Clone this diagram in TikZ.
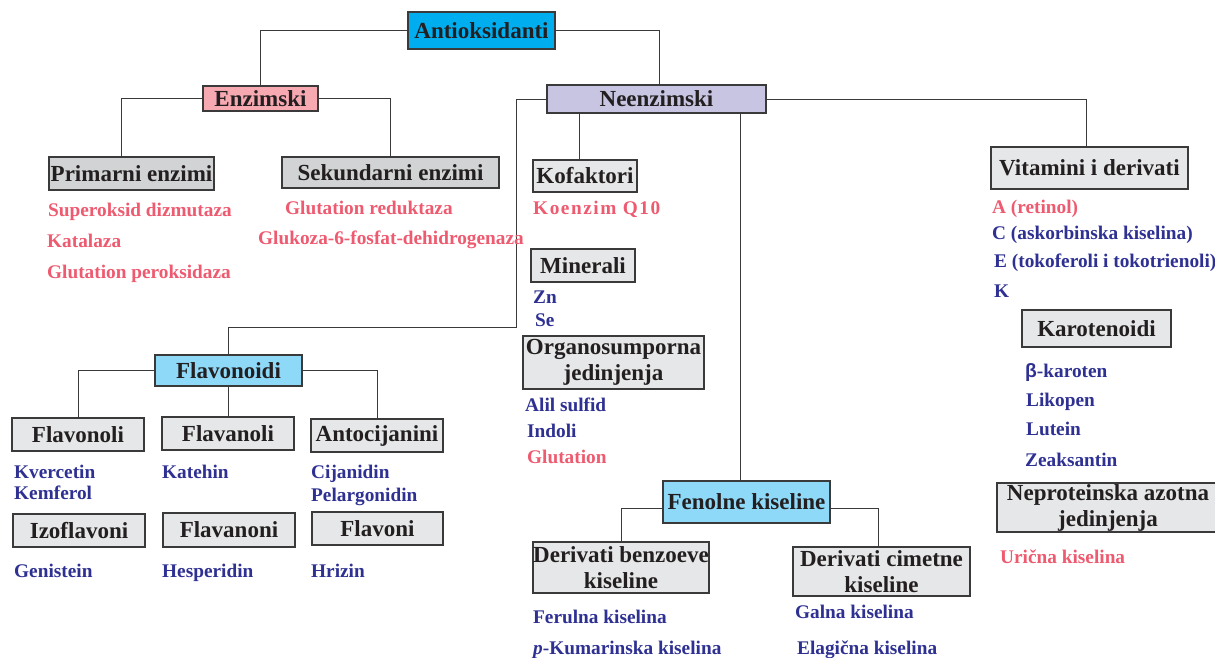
\documentclass[tikz,border=0pt]{standalone}
\usepackage{fontspec}
\setmainfont{Liberation Serif}
\newfontfamily\symfont{Liberation Sans}

\definecolor{topcyan}{HTML}{00AEEF}
\definecolor{enzpink}{HTML}{F7A9B1}
\definecolor{neenzlav}{HTML}{C7C5E2}
\definecolor{groupblue}{HTML}{8ED8F8}
\definecolor{boxgray}{HTML}{E6E7E8}
\definecolor{boxgraydark}{HTML}{D1D3D4}
\definecolor{hdrtext}{HTML}{231F20}
\definecolor{itemred}{HTML}{EE5A6F}
\definecolor{itemblue}{HTML}{2E3192}
\definecolor{linegray}{HTML}{3A3A3A}

\newcommand\hdrfont{\fontsize{23}{26}\selectfont\bfseries}
\newcommand\itemfont{\fontsize{19.3}{22}\selectfont\bfseries}

% box: name, x1, y1, x2, y2, style, text
\newcommand\bx[7]{%
  \node[#6, minimum width={(#4-#2)*1pt}, minimum height={(#5-#3)*1pt}]
    (#1) at ({(#2+#4)/2},{(#3+#5)/2}) {#7};}
% list item: name, x, baseline, style, text
\newcommand\itm[5]{\node[#4] (#1) at (#2,#3) {#5};}

\begin{document}
\begin{tikzpicture}[x=1pt,y=-1pt,
  hbox/.style={draw=linegray, line width=1.2pt, inner sep=0pt, align=center,
    text=hdrtext, font=\hdrfont},
  plainbox/.style={hbox, fill=boxgray},
  darkbox/.style={hbox, fill=boxgraydark},
  rootbox/.style={hbox, fill=topcyan},
  enzbox/.style={hbox, fill=enzpink},
  neenzbox/.style={hbox, fill=neenzlav},
  groupbox/.style={hbox, fill=groupblue},
  item/.style={anchor=base west, inner sep=0pt, font=\itemfont},
  reditem/.style={item, text=itemred},
  blueitem/.style={item, text=itemblue},
  conn/.style={draw=linegray, line width=1pt}]

\fill[white] (0,0) rectangle (1215,657);
\useasboundingbox (0,0) rectangle (1215,657);

% ---- boxes ----
\bx{anti}{408}{12}{555}{49}{rootbox}{Antioksidanti}
\bx{enz}{203}{86}{318}{111}{enzbox}{Enzimski}
\bx{neenz}{547}{85}{766}{113}{neenzbox}{Neenzimski}
\bx{prim}{49}{157}{214}{190}{darkbox}{Primarni enzimi}
\bx{sek}{282}{157}{499}{188}{darkbox}{Sekundarni enzimi}
\bx{kof}{533}{160}{637}{192}{plainbox}{Kofaktori}
\bx{mine}{531}{249}{635}{282}{plainbox}{Minerali}
\bx{org}{523}{336}{704}{389}{plainbox}{Organosumporna\\jedinjenja}
\bx{vit}{991}{147}{1188}{189}{plainbox}{Vitamini i derivati}
\bx{karo}{1022}{310}{1171}{347}{plainbox}{Karotenoidi}
\bx{neprot}{997}{483}{1219}{532}{plainbox}{Neproteinska azotna\\jedinjenja}
\bx{flavd}{155}{355}{302}{386}{groupbox}{Flavonoidi}
\bx{flvl}{12}{418}{144}{451}{plainbox}{Flavonoli}
\bx{flnl}{162}{417}{294}{450}{plainbox}{Flavanoli}
\bx{anto}{311}{419}{443}{452}{plainbox}{Antocijanini}
\bx{izo}{13}{514}{145}{547}{plainbox}{Izoflavoni}
\bx{flnn}{163}{513}{295}{547}{plainbox}{Flavanoni}
\bx{flvn}{312}{512}{443}{545}{plainbox}{Flavoni}
\bx{fen}{663}{481}{830}{523}{groupbox}{Fenolne kiseline}
\bx{benz}{533}{542}{709}{593}{plainbox}{Derivati benzoeve\\kiseline}
\bx{cim}{793}{547}{970}{596}{plainbox}{Derivati cimetne\\kiseline}

% ---- connectors ----
\coordinate (neenzR) at ([xshift=2.5pt]neenz.north);
\coordinate (primT) at ([xshift=-10.5pt]prim.north);
\coordinate (kofT) at ([xshift=-6pt]kof.north);
\coordinate (fenT) at ([xshift=-6.5pt]fen.north);
\coordinate (vitT) at ([xshift=-3pt]vit.north);
\coordinate (flavBend) at (516,327);
\coordinate (fenL) at ([yshift=-6pt]fen.west);
\coordinate (fenR) at ([yshift=-6pt]fen.east);
\coordinate (cimT) at ([xshift=-3.5pt]cim.north);

\draw[conn] (anti.west) -| (enz.north);
\draw[conn] (anti.east) -| (neenzR);
\draw[conn] (enz.west) -| (primT);
\draw[conn] (enz.east) -| (sek.north);
\draw[conn] (neenz.west) -| (flavBend) -| (flavd.north);
\draw[conn] (kofT |- neenz.south) -- (kofT);
\draw[conn] (fenT |- neenz.south) -- (fenT);
\draw[conn] (neenz.east) -| (vitT);
\draw[conn] (flavd.west) -| (flvl.north);
\draw[conn] (flnl.north |- flavd.south) -- (flnl.north);
\draw[conn] (flavd.east) -| (anto.north);
\draw[conn] (fenL) -| (benz.north);
\draw[conn] (fenR) -| (cimT);

% ---- enzymes ----
\itm{sod}{48}{216}{reditem}{Superoksid dizmutaza}
\itm{kat}{47}{247}{reditem}{Katalaza}
\itm{gpx}{47}{278}{reditem}{Glutation peroksidaza}
\itm{gr}{285}{214}{reditem}{Glutation reduktaza}
\itm{gsp}{258}{244}{reditem}{Glukoza-6-fosfat-dehidrogenaza}

% ---- cofactors, minerals, organosulfur ----
\itm{q10}{533}{214}{reditem}{\addfontfeature{LetterSpace=8}Koenzim Q10}
\itm{zn}{533}{303}{blueitem}{Zn}
\itm{se}{535}{326}{blueitem}{Se}
\itm{alil}{525}{411}{blueitem}{Alil sulfid}
\itm{indol}{527}{437}{blueitem}{Indoli}
\itm{glut}{527}{463}{reditem}{Glutation}

% ---- vitamins and carotenoids ----
\itm{vita}{992}{213}{reditem}{A (retinol)}
\itm{vitc}{992}{239}{blueitem}{C (askorbinska kiselina)}
\itm{vite}{994}{267}{blueitem}{E (tokoferoli i tokotrienoli)}
\itm{vitk}{994}{297}{blueitem}{K}
\itm{bkar}{1025}{377}{blueitem}{{\symfont β}-karoten}
\itm{lik}{1026}{406}{blueitem}{Likopen}
\itm{lut}{1026}{435}{blueitem}{Lutein}
\itm{zea}{1025}{466}{blueitem}{Zeaksantin}
\itm{uric}{1000}{563}{reditem}{Urična kiselina}

% ---- flavonoids ----
\itm{kver}{14}{478}{blueitem}{Kvercetin}
\itm{kemf}{14}{499}{blueitem}{Kemferol}
\itm{kateh}{162}{478}{blueitem}{Katehin}
\itm{cij}{311}{478}{blueitem}{Cijanidin}
\itm{pel}{311}{501}{blueitem}{Pelargonidin}
\itm{gen}{14}{577}{blueitem}{Genistein}
\itm{hesp}{162}{577}{blueitem}{Hesperidin}
\itm{hriz}{311}{577}{blueitem}{Hrizin}

% ---- phenolic acids ----
\itm{fer}{533}{623}{blueitem}{Ferulna kiselina}
\itm{kum}{533}{654}{blueitem}{\textit{p}-Kumarinska kiselina}
\itm{gal}{795}{618}{blueitem}{Galna kiselina}
\itm{elag}{797}{654}{blueitem}{Elagična kiselina}

\end{tikzpicture}
\end{document}
